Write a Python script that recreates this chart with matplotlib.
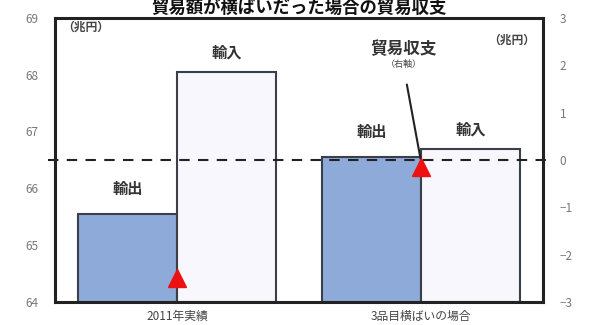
import numpy as np
import matplotlib
matplotlib.use("Agg")
import matplotlib.pyplot as plt

plt.rcParams['font.family'] = ['Noto Sans CJK JP', 'DejaVu Sans']

categories = ["2011年実績", "3品目横ばいの場合"]
exports = [65.55, 66.55]   # 輸出 (兆円, left axis)
imports = [68.05, 66.7]    # 輸入 (兆円, left axis)
balance = [e - i for e, i in zip(exports, imports)]  # 貿易収支 (right axis)

left_ticks = [64, 65, 66, 67, 68, 69]
right_ticks = [-3, -2, -1, 0, 1, 2, 3]

fig = plt.figure(figsize=(5.98, 3.25), dpi=100)
ax = fig.add_axes([0.092, 0.071, 0.816, 0.874])
ax2 = ax.twinx()

x = np.arange(len(categories))
w = 0.405
ax.bar(x - w / 2, [e - 64 for e in exports], w, bottom=64, color="#8eaad8",
       edgecolor="#3a3f4a", linewidth=1.5, zorder=2)
ax.bar(x + w / 2, [i - 64 for i in imports], w, bottom=64, color="#f7f7fd",
       edgecolor="#3a3f4a", linewidth=1.5, zorder=2)

ax.set_xlim(-0.5, 1.5)
ax.set_ylim(64, 69)
ax.set_yticks(left_ticks)
ax.set_xticks(x)
ax.set_xticklabels(categories, color="#444444", fontsize=8.5)
ax.tick_params(axis="y", length=0, labelsize=8.5, labelcolor="#777777", pad=12)
ax.tick_params(axis="x", length=0, pad=6)
for s in ax.spines.values():
    s.set_linewidth(2.2)
    s.set_color("#222222")

ax2.set_ylim(-3, 3)
ax2.set_yticks(right_ticks)
ax2.set_yticklabels([str(t).replace("-", "\u2212") for t in right_ticks])
ax2.tick_params(axis="y", length=0, labelsize=8.5, labelcolor="#777777", pad=12)
for s in ax2.spines.values():
    s.set_visible(False)

# zero line of the balance axis, running past the frame
ax2.plot([-0.53, 1.53], [0, 0], ls=(0, (5, 4)), color="#222222", lw=1.5,
         clip_on=False, zorder=3)
ax2.plot(x, balance, ls="none", marker="^", markersize=13, color="#ee1111",
         zorder=4)

lbl = dict(fontsize=11, fontweight="bold", color="#333333", ha="center")
for xi, e, i in zip(x, exports, imports):
    ax.text(xi - w / 2, e + 0.3, "輸出", va="bottom", **lbl)
    ax.text(xi + w / 2, i + 0.2, "輸入", va="bottom", **lbl)

ax.text(-0.47, 68.95, "（兆円）", fontsize=8.5, fontweight="bold",
        color="#444444", va="top", ha="left")
ax.text(1.47, 68.72, "（兆円）", fontsize=8.5, fontweight="bold",
        color="#444444", va="top", ha="right")

ax2.annotate("", xy=(x[1], balance[1] + 0.12), xytext=(0.94, 1.65),
             arrowprops=dict(arrowstyle="-", color="#222222", lw=1.5))
ax2.text(0.93, 2.35, "貿易収支", fontsize=12, fontweight="bold",
         color="#333333", ha="center", va="center")
ax2.text(0.93, 2.02, "（右軸）", fontsize=6.5, color="#444444",
         ha="center", va="center")

fig.text(0.5, 0.975, "貿易額が横ばいだった場合の貿易収支", fontsize=12.5,
         fontweight="bold", color="#111111", ha="center", va="center")

fig.savefig("out.png", dpi=100, facecolor="white")
